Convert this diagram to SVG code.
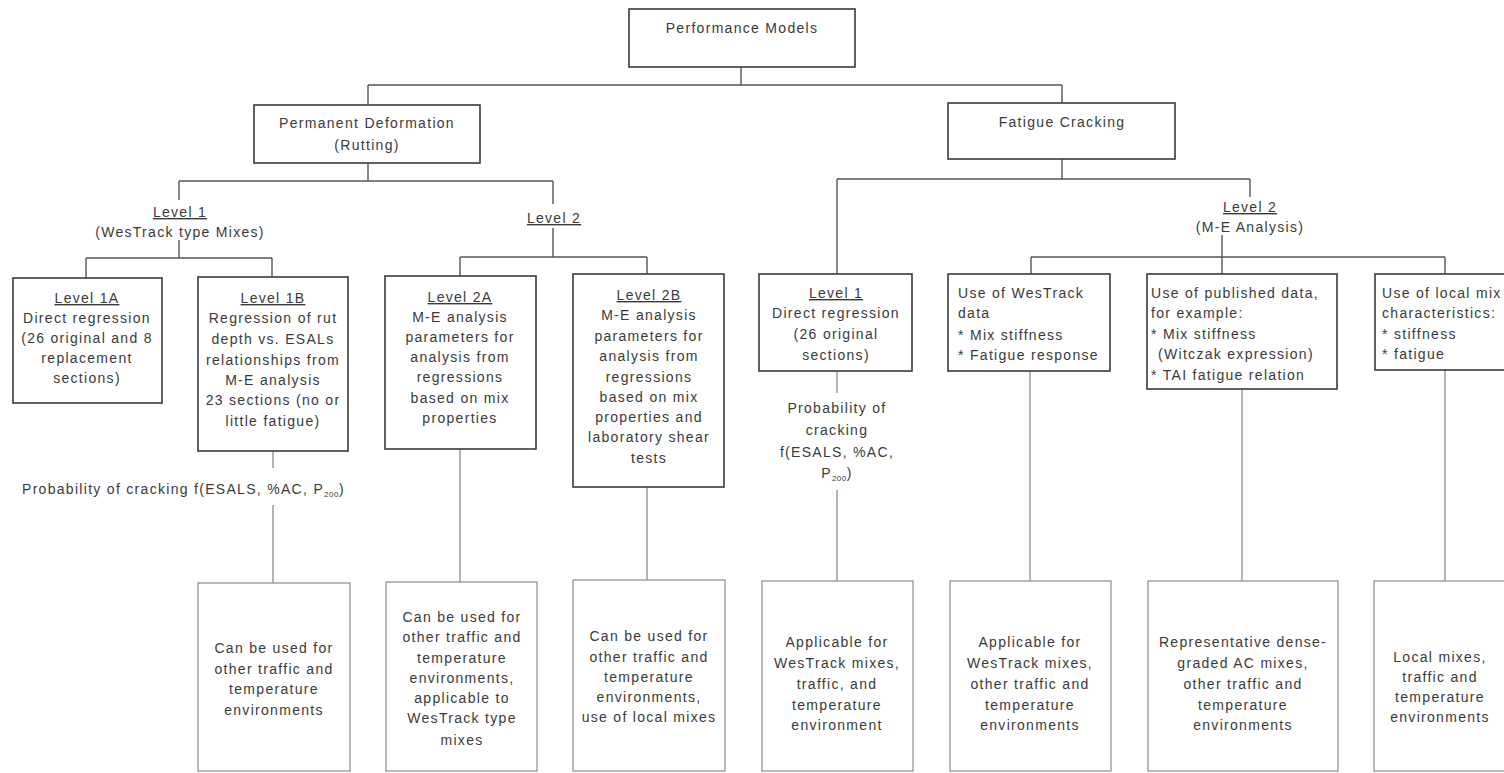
<svg xmlns="http://www.w3.org/2000/svg" width="1504" height="773" viewBox="0 0 1504 773">
<style>
.bx{fill:#fff;stroke:#3a3a3a;stroke-width:1.6}
.bb{fill:#fff;stroke:#8a8a8a;stroke-width:1.2}
.ln{stroke:#555;stroke-width:1.4;fill:none}
.lt{stroke:#777;stroke-width:1.1;fill:none}
text{font-family:"Liberation Sans",Arial,sans-serif;font-size:14px;letter-spacing:1.3px;fill:#3a3a3a}
.c{text-anchor:middle}
.u{text-decoration:underline}
.sub{font-size:8px;letter-spacing:0.5px}
</style>
<rect width="1504" height="773" fill="#fff"/>
<g id="connectors">
<path class="ln" d="M741 67V85M368 85H1062M368 85V105M1062 85V103"/>
<path class="ln" d="M368 163V181M179 181H553M179 181V200M179 240V258M86 258H272M86 258V278M272 258V277"/>
<path class="ln" d="M553 181V204M553 228V257M460 257H647M460 257V276M647 257V274"/>
<path class="lt" d="M273 451V468M273 505V583M460 449V582M647 487V580"/>
<path class="ln" d="M1062 159V179M837 179H1250M837 179V274M1250 179V197M1222 235V274M1031 257H1445M1031 257V274M1445 257V274"/>
<path class="lt" d="M837 371V393M837 490V581M1030 371V581M1242 389V581M1445 370V581"/>
</g>
<g id="performance-models">
<rect class="bx" x="629" y="9" width="226" height="58"/>
<text class="c" x="742" y="33">Performance Models</text>
</g>
<g id="permanent-deformation">
<rect class="bx" x="254" y="105" width="226" height="58"/>
<text class="c" x="367" y="128">Permanent Deformation</text>
<text class="c" x="367" y="150">(Rutting)</text>
</g>
<g id="fatigue-cracking">
<rect class="bx" x="948" y="103" width="227" height="56"/>
<text class="c" x="1062" y="127">Fatigue Cracking</text>
</g>
<g id="pd-level1">
<text class="c u" x="180" y="217">Level 1</text>
<text class="c" x="180" y="237">(WesTrack type Mixes)</text>
</g>
<g id="pd-level2">
<text class="c u" x="554" y="223">Level 2</text>
</g>
<g id="fc-level2">
<text class="c u" x="1250" y="212">Level 2</text>
<text class="c" x="1250" y="232">(M-E Analysis)</text>
</g>
<g id="level1a">
<rect class="bx" x="13" y="278" width="149" height="125"/>
<text class="c u" x="87" y="303">Level 1A</text>
<text class="c" x="87" y="323">Direct regression</text>
<text class="c" x="87" y="343">(26 original and 8</text>
<text class="c" x="87" y="363">replacement</text>
<text class="c" x="87" y="383">sections)</text>
</g>
<g id="level1b">
<rect class="bx" x="198" y="277" width="150" height="174"/>
<text class="c u" x="273" y="303">Level 1B</text>
<text class="c" x="273" y="323">Regression of rut</text>
<text class="c" x="273" y="344">depth vs. ESALs</text>
<text class="c" x="273" y="365">relationships from</text>
<text class="c" x="273" y="385">M-E analysis</text>
<text class="c" x="273" y="405">23 sections (no or</text>
<text class="c" x="273" y="426">little fatigue)</text>
</g>
<g id="pd-probability">
<text x="22" y="494">Probability of cracking f(ESALS, %AC, P<tspan class="sub" dy="3">200</tspan><tspan dy="-3">)</tspan></text>
</g>
<g id="level2a">
<rect class="bx" x="385" y="276" width="151" height="173"/>
<text class="c u" x="460" y="302">Level 2A</text>
<text class="c" x="460" y="322">M-E analysis</text>
<text class="c" x="460" y="342">parameters for</text>
<text class="c" x="460" y="362">analysis from</text>
<text class="c" x="460" y="382">regressions</text>
<text class="c" x="460" y="403">based on mix</text>
<text class="c" x="460" y="423">properties</text>
</g>
<g id="level2b">
<rect class="bx" x="573" y="274" width="151" height="213"/>
<text class="c u" x="649" y="300">Level 2B</text>
<text class="c" x="649" y="320">M-E analysis</text>
<text class="c" x="649" y="341">parameters for</text>
<text class="c" x="649" y="361">analysis from</text>
<text class="c" x="649" y="382">regressions</text>
<text class="c" x="649" y="402">based on mix</text>
<text class="c" x="649" y="422">properties and</text>
<text class="c" x="649" y="442">laboratory shear</text>
<text class="c" x="649" y="463">tests</text>
</g>
<g id="fc-level1">
<rect class="bx" x="759" y="274" width="153" height="97"/>
<text class="c u" x="836" y="298">Level 1</text>
<text class="c" x="836" y="318">Direct regression</text>
<text class="c" x="836" y="339">(26 original</text>
<text class="c" x="836" y="360">sections)</text>
</g>
<g id="fc-probability">
<text class="c" x="837" y="413">Probability of</text>
<text class="c" x="837" y="435">cracking</text>
<text class="c" x="837" y="457">f(ESALS, %AC,</text>
<text class="c" x="837" y="478">P<tspan class="sub" dy="3">200</tspan><tspan dy="-3">)</tspan></text>
</g>
<g id="westrack-data">
<rect class="bx" x="948" y="274" width="162" height="97"/>
<text x="958" y="298">Use of WesTrack</text>
<text x="958" y="318">data</text>
<text x="958" y="340">* Mix stiffness</text>
<text x="958" y="360">* Fatigue response</text>
</g>
<g id="published-data">
<rect class="bx" x="1147" y="274" width="190" height="115"/>
<text x="1151" y="298">Use of published data,</text>
<text x="1151" y="318">for example:</text>
<text x="1151" y="339">* Mix stiffness</text>
<text x="1158" y="359">(Witczak expression)</text>
<text x="1151" y="380">* TAI fatigue relation</text>
</g>
<g id="local-mix">
<rect class="bx" x="1375" y="274" width="140" height="96"/>
<text x="1382" y="298">Use of local mix</text>
<text x="1382" y="318">characteristics:</text>
<text x="1382" y="339">* stiffness</text>
<text x="1382" y="359">* fatigue</text>
</g>
<g id="out-1b">
<rect class="bb" x="198" y="583" width="152" height="188"/>
<text class="c" x="274" y="653">Can be used for</text>
<text class="c" x="274" y="674">other traffic and</text>
<text class="c" x="274" y="694">temperature</text>
<text class="c" x="274" y="715">environments</text>
</g>
<g id="out-2a">
<rect class="bb" x="386" y="582" width="151" height="189"/>
<text class="c" x="462" y="622">Can be used for</text>
<text class="c" x="462" y="642">other traffic and</text>
<text class="c" x="462" y="663">temperature</text>
<text class="c" x="462" y="683">environments,</text>
<text class="c" x="462" y="703">applicable to</text>
<text class="c" x="462" y="723">WesTrack type</text>
<text class="c" x="462" y="745">mixes</text>
</g>
<g id="out-2b">
<rect class="bb" x="573" y="580" width="152" height="191"/>
<text class="c" x="649" y="641">Can be used for</text>
<text class="c" x="649" y="662">other traffic and</text>
<text class="c" x="649" y="682">temperature</text>
<text class="c" x="649" y="702">environments,</text>
<text class="c" x="649" y="722">use of local mixes</text>
</g>
<g id="out-fc1">
<rect class="bb" x="762" y="581" width="151" height="190"/>
<text class="c" x="837" y="647">Applicable for</text>
<text class="c" x="837" y="668">WesTrack mixes,</text>
<text class="c" x="837" y="689">traffic, and</text>
<text class="c" x="837" y="710">temperature</text>
<text class="c" x="837" y="730">environment</text>
</g>
<g id="out-westrack">
<rect class="bb" x="950" y="581" width="161" height="190"/>
<text class="c" x="1030" y="647">Applicable for</text>
<text class="c" x="1030" y="668">WesTrack mixes,</text>
<text class="c" x="1030" y="689">other traffic and</text>
<text class="c" x="1030" y="710">temperature</text>
<text class="c" x="1030" y="730">environments</text>
</g>
<g id="out-published">
<rect class="bb" x="1148" y="581" width="190" height="190"/>
<text class="c" x="1243" y="647">Representative dense-</text>
<text class="c" x="1243" y="668">graded AC mixes,</text>
<text class="c" x="1243" y="689">other traffic and</text>
<text class="c" x="1243" y="710">temperature</text>
<text class="c" x="1243" y="730">environments</text>
</g>
<g id="out-local">
<rect class="bb" x="1374" y="581" width="140" height="190"/>
<text class="c" x="1440" y="662">Local mixes,</text>
<text class="c" x="1440" y="682">traffic and</text>
<text class="c" x="1440" y="702">temperature</text>
<text class="c" x="1440" y="722">environments</text>
</g>
</svg>
